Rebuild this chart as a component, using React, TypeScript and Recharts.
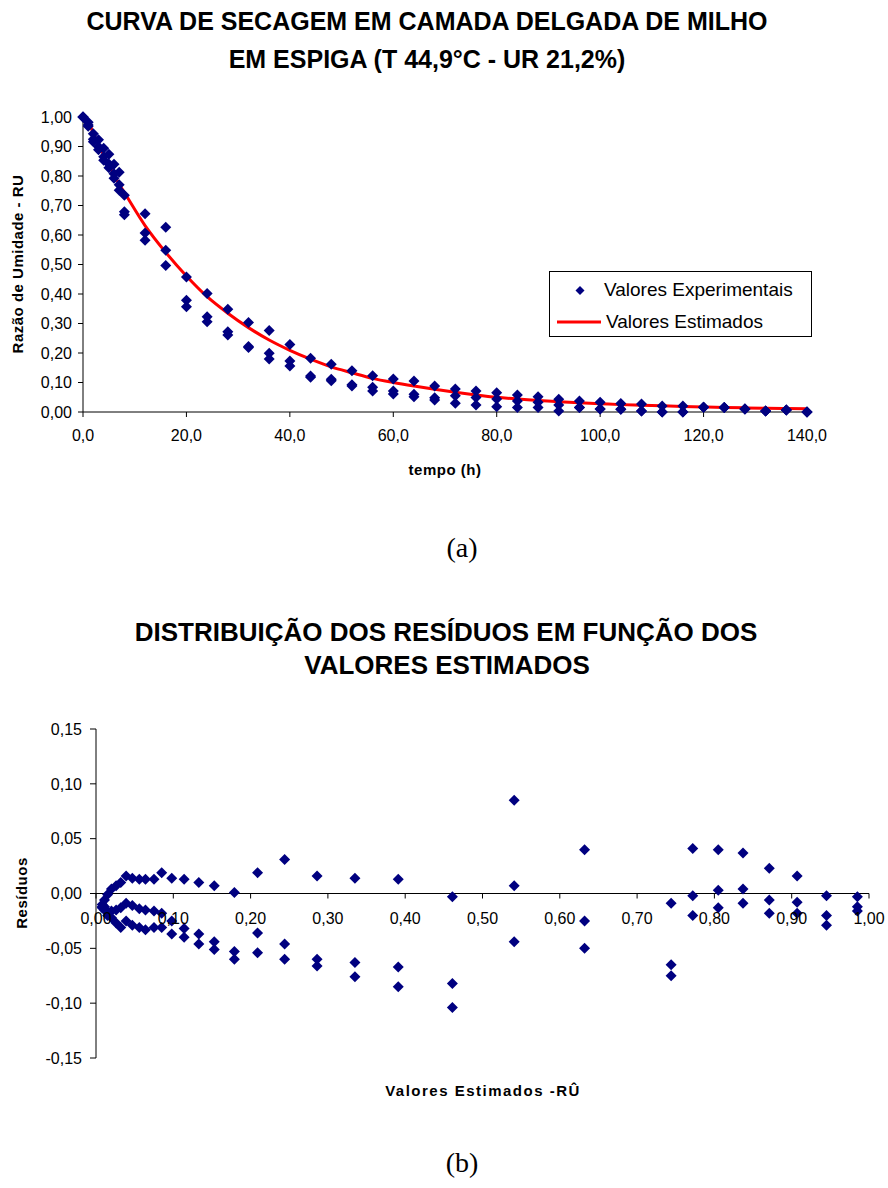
import React from 'react';
import {
  ComposedChart,
  ScatterChart,
  Scatter,
  Line,
  XAxis,
  YAxis,
  ReferenceLine,
} from 'recharts';

// (a) curva de secagem
const tempo = [0, 1, 2, 3, 4, 5, 6, 7, 8, 12, 16, 20, 24, 28, 32, 36, 40, 44, 48, 52, 56, 60, 64, 68, 72, 76, 80, 84, 88, 92, 96, 100, 104, 108, 112, 116, 120, 124, 128, 132, 136, 140];
const ruRep1 = [1.0, 0.982, 0.943, 0.923, 0.894, 0.874, 0.84, 0.813, 0.735, 0.672, 0.626, 0.458, 0.402, 0.348, 0.303, 0.276, 0.229, 0.182, 0.162, 0.14, 0.123, 0.112, 0.105, 0.088, 0.078, 0.071, 0.065, 0.058, 0.052, 0.043, 0.037, 0.033, 0.029, 0.027, 0.02, 0.02, 0.016, 0.015, 0.01, 0.003, 0.007, 0.0];
const ruRep2 = [1.0, 0.973, 0.925, 0.899, 0.865, 0.841, 0.808, 0.77, 0.679, 0.607, 0.548, 0.379, 0.323, 0.272, 0.222, 0.199, 0.173, 0.122, 0.111, 0.092, 0.084, 0.071, 0.06, 0.048, 0.055, 0.049, 0.044, 0.037, 0.033, 0.024, 0.015, 0.01, 0.009, 0.003, 0.0, 0.0, 0.016, 0.015, 0.01, 0.003, 0.007, 0.0];
const ruRep3 = [1.0, 0.969, 0.916, 0.889, 0.853, 0.828, 0.792, 0.752, 0.669, 0.582, 0.497, 0.357, 0.306, 0.261, 0.219, 0.18, 0.156, 0.118, 0.106, 0.088, 0.071, 0.061, 0.052, 0.041, 0.03, 0.024, 0.018, 0.015, 0.015, 0.003, 0.015, 0.01, 0.009, 0.003, 0.0, 0.0, 0.016, 0.015, 0.01, 0.003, 0.007, 0.0];
const ruEstimado = [1.0, 0.985, 0.945, 0.907, 0.871, 0.837, 0.805, 0.772, 0.744, 0.632, 0.541, 0.461, 0.391, 0.335, 0.286, 0.244, 0.209, 0.179, 0.153, 0.133, 0.114, 0.1, 0.088, 0.077, 0.067, 0.058, 0.05, 0.044, 0.039, 0.035, 0.031, 0.028, 0.025, 0.023, 0.021, 0.019, 0.017, 0.015, 0.014, 0.013, 0.012, 0.011];
const ticksTempo = [0, 20, 40, 60, 80, 100, 120, 140];
const ticksRU = [0, 0.1, 0.2, 0.3, 0.4, 0.5, 0.6, 0.7, 0.8, 0.9, 1.0];

// (b) residuos x valores estimados
const ruChapeu = [0.985, 0.945, 0.907, 0.871, 0.837, 0.805, 0.772, 0.744, 0.632, 0.541, 0.461, 0.391, 0.335, 0.286, 0.244, 0.209, 0.179, 0.153, 0.133, 0.114, 0.098, 0.085, 0.075, 0.064, 0.056, 0.047, 0.039, 0.032, 0.026, 0.02, 0.015, 0.011, 0.008];
const residuo1 = [-0.003, -0.002, 0.016, 0.023, 0.037, 0.04, 0.041, -0.009, 0.04, 0.085, -0.003, 0.013, 0.014, 0.016, 0.031, 0.019, 0.001, 0.007, 0.01, 0.013, 0.014, 0.019, 0.013, 0.013, 0.013, 0.014, 0.016, 0.01, 0.007, 0.004, -0.001, -0.006, -0.01];
const residuo2 = [-0.012, -0.02, -0.008, -0.006, 0.004, 0.003, -0.002, -0.065, -0.025, 0.007, -0.082, -0.067, -0.063, -0.06, -0.046, -0.036, -0.053, -0.044, -0.037, -0.032, -0.025, -0.018, -0.016, -0.015, -0.014, -0.011, -0.009, -0.013, -0.015, -0.016, -0.017, -0.012, -0.012];
const residuo3 = [-0.016, -0.029, -0.018, -0.018, -0.009, -0.013, -0.02, -0.075, -0.05, -0.044, -0.104, -0.085, -0.076, -0.066, -0.06, -0.054, -0.06, -0.051, -0.046, -0.04, -0.037, -0.031, -0.031, -0.033, -0.031, -0.029, -0.025, -0.031, -0.027, -0.022, -0.02, -0.015, -0.013];
const ticksEstimado = [0, 0.1, 0.2, 0.3, 0.4, 0.5, 0.6, 0.7, 0.8, 0.9, 1.0];
const ticksResiduo = [-0.15, -0.1, -0.05, 0, 0.05, 0.1, 0.15];

const experimental = tempo.flatMap((t, i) => [
  { t, ru: ruRep1[i] },
  { t, ru: ruRep2[i] },
  { t, ru: ruRep3[i] },
]);
const estimado = tempo.map((t, i) => ({ t, ru: ruEstimado[i] }));
const residuos = ruChapeu.flatMap((v, i) => [
  { v, r: residuo1[i] },
  { v, r: residuo2[i] },
  { v, r: residuo3[i] },
]);

const FONT = '"Liberation Sans", Arial, sans-serif';
const NAVY = '#000080';
const fmt = (d: number) => (v: number) => v.toFixed(d).replace('.', ',');
const tickStyle = { fill: '#000', fontSize: 16, fontFamily: FONT };

const Diamond = (props: any) => {
  const { cx, cy } = props;
  const r = 5.5;
  return <polygon points={`${cx},${cy - r} ${cx + r},${cy} ${cx},${cy + r} ${cx - r},${cy}`} fill={NAVY} />;
};

// chart B: plot top 29, height 329 -> zero line at the middle
const B_TOP = 29;
const B_PLOT_H = 329;
const B_ZERO = B_TOP + B_PLOT_H / 2;

const CrossTick = (props: any) => {
  const { x, payload } = props;
  return (
    <g>
      <line x1={x} x2={x} y1={B_ZERO} y2={B_ZERO + 5} stroke="#000" />
      <text x={x} y={B_ZERO + 19} dy="0.71em" textAnchor="middle" fill="#000" fontSize={16} fontFamily={FONT}>
        {fmt(2)(payload.value)}
      </text>
    </g>
  );
};

const Txt: React.FC<{ top: number; cx: number; size: number; children: React.ReactNode; serif?: boolean; bold?: boolean }> = ({ top, cx, size, children, serif, bold = true }) => (
  <div style={{
    position: 'absolute', left: cx - 444, top, width: 888, textAlign: 'center',
    fontFamily: serif ? '"Liberation Serif", "Times New Roman", serif' : FONT,
    fontWeight: bold ? 700 : 400, fontSize: size, lineHeight: `${size}px`, whiteSpace: 'nowrap',
  }}>{children}</div>
);

const AxisTitle: React.FC<{ cx: number; cy: number; rotate?: boolean; spacing?: number; children: React.ReactNode }> = ({ cx, cy, rotate, spacing = 0, children }) => (
  <div style={{
    position: 'absolute', left: cx - 150, top: cy - 10, width: 300, height: 20, lineHeight: '20px',
    textAlign: 'center', fontFamily: FONT, fontWeight: 700, fontSize: 15, whiteSpace: 'nowrap',
    letterSpacing: spacing, transform: rotate ? 'rotate(-90deg)' : undefined,
  }}>{children}</div>
);

export default function App() {
  return (
    <div style={{ position: 'absolute', left: 0, top: 0, width: 888, height: 1188, background: '#fff' }}>
      <Txt top={9} cx={427} size={25}>CURVA DE SECAGEM EM CAMADA DELGADA DE MILHO</Txt>
      <Txt top={47} cx={427} size={25}>EM ESPIGA (T 44,9°C - UR 21,2%)</Txt>

      <div style={{ position: 'absolute', left: 0, top: 0 }}>
        <ComposedChart width={888} height={480} margin={{ top: 117, right: 81, left: 0, bottom: 0 }}>
          <XAxis
            type="number"
            dataKey="t"
            domain={[0, 140]}
            ticks={ticksTempo}
            interval={0}
            tickFormatter={fmt(1)}
            tick={tickStyle}
            tickSize={5}
            tickMargin={13}
            height={68}
            stroke="#000"
            allowDuplicatedCategory={false}
          />
          <YAxis
            type="number"
            dataKey="ru"
            domain={[0, 1]}
            ticks={ticksRU}
            interval={0}
            tickFormatter={fmt(2)}
            tick={tickStyle}
            tickSize={5}
            tickMargin={6}
            width={83}
            stroke="#000"
          />
          <Line
            data={estimado}
            dataKey="ru"
            type="monotone"
            stroke="#ff0000"
            strokeWidth={3}
            dot={false}
            isAnimationActive={false}
          />
          <Scatter data={experimental} dataKey="ru" shape={<Diamond />} isAnimationActive={false} />
        </ComposedChart>
      </div>

      <div style={{
        position: 'absolute', left: 549, top: 271, width: 261, height: 64, border: '1px solid #000',
        fontFamily: FONT, fontSize: 19, background: '#fff',
      }}>
        <svg width={60} height={64} style={{ position: 'absolute', left: 0, top: 0 }}>
          <polygon points="30,14 34.5,18.5 30,23 25.5,18.5" fill={NAVY} />
          <line x1={7} x2={51} y1={50} y2={50} stroke="#ff0000" strokeWidth={3} />
        </svg>
        <div style={{ position: 'absolute', left: 54, top: 7, lineHeight: '22px' }}>Valores Experimentais</div>
        <div style={{ position: 'absolute', left: 56, top: 39, lineHeight: '22px' }}>Valores Estimados</div>
      </div>

      <AxisTitle cx={445} cy={470} spacing={0.5}>tempo (h)</AxisTitle>
      <AxisTitle cx={18} cy={264} rotate spacing={0.5}>Razão de Umidade - RU</AxisTitle>

      <Txt top={534} cx={462} size={28} serif bold={false}>(a)</Txt>

      <Txt top={619} cx={446} size={26}>DISTRIBUIÇÃO DOS RESÍDUOS EM FUNÇÃO DOS</Txt>
      <Txt top={652} cx={447} size={26}>VALORES ESTIMADOS</Txt>

      <div style={{ position: 'absolute', left: 0, top: 700 }}>
        <ScatterChart width={888} height={400} margin={{ top: B_TOP, right: 19, left: 0, bottom: 0 }}>
          <XAxis
            type="number"
            dataKey="v"
            domain={[0, 1]}
            ticks={ticksEstimado}
            interval={0}
            axisLine={false}
            tickLine={false}
            tick={<CrossTick />}
            height={400 - B_TOP - B_PLOT_H}
          />
          <YAxis
            type="number"
            dataKey="r"
            domain={[-0.15, 0.15]}
            ticks={ticksResiduo}
            interval={0}
            tickFormatter={fmt(2)}
            tick={tickStyle}
            tickSize={6}
            tickMargin={8}
            width={96}
            stroke="#000"
            allowDataOverflow
          />
          <ReferenceLine y={0} stroke="#000" />
          <Scatter data={residuos} shape={<Diamond />} isAnimationActive={false} />
        </ScatterChart>
      </div>

      <AxisTitle cx={22} cy={893} rotate spacing={0.5}>Resíduos</AxisTitle>
      <AxisTitle cx={483} cy={1091} spacing={1.5}>Valores Estimados -RÛ</AxisTitle>

      <Txt top={1149} cx={462} size={28} serif bold={false}>(b)</Txt>
    </div>
  );
}
